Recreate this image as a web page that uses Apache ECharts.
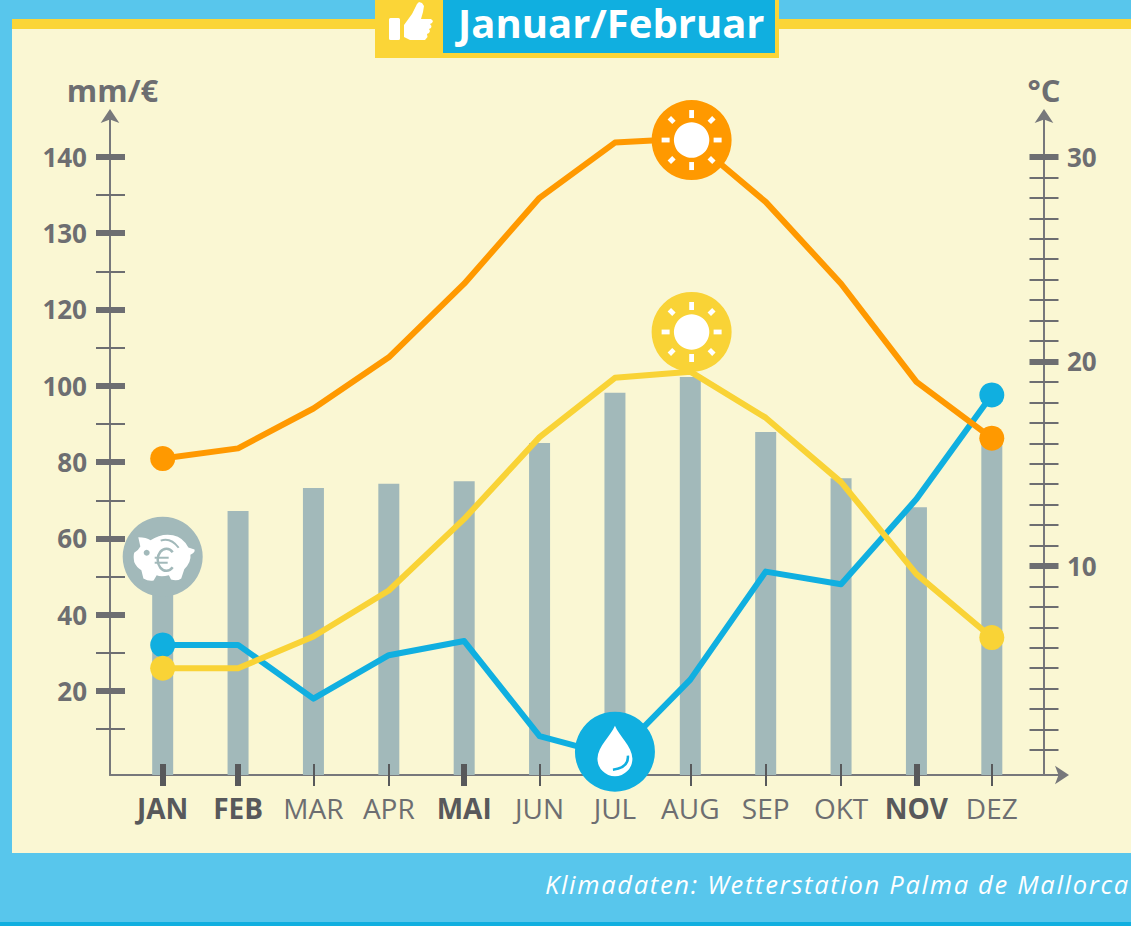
<!DOCTYPE html>
<html>
<head>
<meta charset="utf-8">
<style>
html,body{margin:0;padding:0;background:#faf7d3;overflow:hidden}
#c{width:1131px;height:926px}
svg text[style*="italic"]{letter-spacing:1.7px}
</style>
<script src="https://cdn.jsdelivr.net/npm/echarts@6/dist/echarts.min.js"></script>
</head>
<body>
<div id="c"></div>
<script>
const months = ['JAN','FEB','MAR','APR','MAI','JUN','JUL','AUG','SEP','OKT','NOV','DEZ'];
const boldMonths = ['JAN','FEB','MAI','NOV'];
const priceBars = [57.1,69.2,75.2,76.3,77,87,100.2,104.3,89.9,77.8,70.2,87.8];
const precipMm = [32.1,32.1,18.0,29.4,33.1,8.2,2.9,23.0,51.3,48.0,70.3,97.6];
const tempMax = [15.25,15.75,17.7,20.2,23.8,28.0,30.7,30.9,27.8,23.8,19.0,16.25];
const tempMin = [5.0,5.0,6.55,8.8,12.3,16.3,19.2,19.5,17.25,14.1,9.6,6.5];
const leftTickValues = [20,40,60,80,100,120,140,160];
const leftTickLabels = ['20','40','60','80','100','120','130','140'];
const leftMinorValues = [10,30,50,70,90,110,130,150];
const rightTickValues = [10,20,30];
const rightMinorValues = [1,2,3,4,5,6,7,8,9,11,12,13,14,15,16,17,18,19,21,22,23,24,25,26,27,28,29];
const iconKinds = ['piggy','drop','sunOrange','sunYellow'];
const iconMonths = ['JAN','JUL','AUG','AUG'];
const iconValues = [55.2,4.1,164.4,114.1];

const GRAY='#6d6e71', DARK='#58595b', LINE='#77787b', CREAM='#faf7d3', SKY='#58c6ec',
      BLUE='#10afe0', YEL='#f9d336', ORA='#ff9900', BAR='#a2b9ba';
const FONT='"Open Sans"';

function pathEl(d,x,y,w,h,style){return {type:'path',shape:{pathData:d,layout:'cover',x:x,y:y,width:w,height:h},style:style};}
function sun(col,p){
  const kids=[{type:'circle',shape:{cx:0,cy:0,r:40},style:{fill:col}},{type:'circle',shape:{cx:0,cy:0,r:17.7},style:{fill:'#fff'}}];
  for(let i=0;i<8;i++){
    const diag=i%2===1;
    kids.push({type:'rect',rotation:i*Math.PI/4,shape:{x:-2.4,y:diag?-31.5:-30,width:4.8,height:diag?6.5:8},style:{fill:'#fff'}});
  }
  return {type:'group',x:p[0]+1.3,y:p[1],children:kids};
}
function piggy(p){
  const body='M-24,-18 Q-16,-18 -12,-15 Q-2,-22 10,-20 Q20,-18 25,-8 L31,-6 Q32,-3 27,-1 Q28,6 21,13 L18,22 Q14,25 8,23 L6,19 Q-2,21 -6,19 L-9,24 Q-14,25 -19,22 L-21,14 Q-26,11 -28,6 Q-29,0 -28,-3 Q-24,-5 -22,-9 Z';
  return {type:'group',x:p[0],y:p[1],children:[
    {type:'circle',shape:{cx:0,cy:0,r:40},style:{fill:BAR}},
    pathEl(body,-29,-22,61,46,{fill:'#fff'}),
    {type:'circle',shape:{cx:-16,cy:-4,r:3},style:{fill:BAR}},
    pathEl('M-2,-15 Q8,-18 16,-9',-2,-17,18,8,{fill:'none',stroke:BAR,lineWidth:2}),
    pathEl('M10,-4 A9,9.5 0 1 0 10,9',-5,-8,15,22,{fill:'none',stroke:BAR,lineWidth:2.5}),
    {type:'rect',shape:{x:-8,y:0,width:14,height:2},style:{fill:BAR}},
    {type:'rect',shape:{x:-8,y:5,width:13,height:2},style:{fill:BAR}}
  ]};
}
function drop(p){
  return {type:'group',x:p[0],y:p[1],children:[
    {type:'circle',shape:{cx:0,cy:0,r:40},style:{fill:BLUE}},
    pathEl('M0,-26 C4,-16 17,-6 17.5,7 A17.5,17.5 0 0 1 -17.5,7 C-17,-6 -4,-16 0,-26 Z',-17.5,-26,35,50.5,{fill:'#fff'}),
    pathEl('M12,4 Q13,16 -2,18',-2,4,15,14,{fill:'none',stroke:BLUE,lineWidth:2.5})
  ]};
}
function renderIcon(params,api){
  const p=api.coord([api.value(0),api.value(1)]);
  const k=iconKinds[params.dataIndex];
  if(k==='piggy') return piggy(p);
  if(k==='drop') return drop(p);
  return sun(k==='sunOrange'?ORA:YEL,p);
}
const endDots=(v,params)=>(params.dataIndex===0||params.dataIndex===months.length-1)?25:0;
function lineSeries(name,data,color,axis,z){
  return {name:name,type:'line',data:data,yAxisIndex:axis,xAxisIndex:0,z:z,symbol:'circle',symbolSize:endDots,
    showSymbol:true,showAllSymbol:true,smooth:false,lineStyle:{color:color,width:6,join:'round'},itemStyle:{color:color,borderWidth:0},clip:false};
}
function tickY(pos,min,max,values,width){
  return {type:'value',position:pos,min:min,max:max,gridIndex:0,offset:0,z:1,
    axisLine:{show:false,onZero:false},splitLine:{show:false},axisLabel:{show:false},
    axisTick:{show:true,length:29,customValues:values,lineStyle:{color:GRAY,width:width}}};
}
function tickX(values,width){
  return {type:'category',data:months,position:'bottom',gridIndex:0,offset:-11,z:3,
    axisLine:{show:false,onZero:false},splitLine:{show:false},axisLabel:{show:false},
    axisTick:{show:true,length:22,alignWithLabel:true,customValues:values,lineStyle:{color:DARK,width:width}}};
}
const ARROW={show:true,onZero:false,symbol:['none','arrow'],symbolSize:[14,14],symbolOffset:[0,7],lineStyle:{color:LINE,width:2}};
const LMIN=-2,LMAX=170.7,RMIN=-0.22,RMAX=32;
const boldIdx=months.map((m,i)=>boldMonths.includes(m)?i:-1).filter(i=>i>=0);
const thinIdx=months.map((m,i)=>boldMonths.includes(m)?-1:i).filter(i=>i>=0);

const option={
  animation:false,
  backgroundColor:CREAM,
  textStyle:{fontFamily:FONT},
  grid:[{left:125,right:101.5,top:116,bottom:151},{left:110,right:69,top:116,bottom:151}],
  xAxis:[
    {type:'category',data:months,position:'bottom',gridIndex:0,
      axisLine:{show:false,onZero:false},axisTick:{show:false},splitLine:{show:false},
      axisLabel:{show:true,interval:0,margin:19,
        formatter:v=>(boldMonths.includes(v)?'{b|':'{n|')+v+'}',
        rich:{b:{fontFamily:FONT,fontWeight:'bold',fontSize:28,color:DARK},n:{fontFamily:FONT,fontSize:28,color:GRAY}}}},
    tickX(thinIdx,2),
    tickX(boldIdx,6),
    {type:'value',gridIndex:1,position:'bottom',min:0,max:1,z:1,
      axisLine:ARROW,axisTick:{show:false},axisLabel:{show:false},splitLine:{show:false}}
  ],
  yAxis:[
    {type:'value',position:'left',gridIndex:0,min:LMIN,max:LMAX,offset:15,z:1,name:'mm/€',nameLocation:'end',nameGap:11,
      nameTextStyle:{fontFamily:FONT,fontWeight:'bold',fontSize:31,color:GRAY,padding:[0,0,0,5]},
      axisLine:ARROW,axisTick:{show:false},splitLine:{show:false},
      axisLabel:{show:true,margin:23,customValues:leftTickValues,
        formatter:v=>leftTickLabels[leftTickValues.indexOf(v)],
        fontFamily:FONT,fontWeight:'bold',fontSize:26,color:GRAY}},
    {type:'value',position:'right',gridIndex:0,min:RMIN,max:RMAX,offset:14.5,z:1,name:'°C',nameLocation:'end',nameGap:11,
      nameTextStyle:{fontFamily:FONT,fontWeight:'bold',fontSize:31,color:GRAY},
      axisLine:ARROW,axisTick:{show:false},splitLine:{show:false},
      axisLabel:{show:true,margin:23,customValues:rightTickValues,
        formatter:v=>String(v),
        fontFamily:FONT,fontWeight:'bold',fontSize:26,color:GRAY}},
    tickY('left',LMIN,LMAX,leftTickValues,6),
    tickY('left',LMIN,LMAX,leftMinorValues,2),
    tickY('right',RMIN,RMAX,rightTickValues,6),
    tickY('right',RMIN,RMAX,rightMinorValues,2),
    {type:'value',gridIndex:0,position:'left',min:0,max:LMAX-LMIN,show:false},
    {type:'value',gridIndex:1,position:'left',min:0,max:1,show:false}
  ],
  series:[
    {name:'Preis',type:'bar',data:priceBars,xAxisIndex:0,yAxisIndex:6,barWidth:21,z:2,itemStyle:{color:BAR}},
    lineSeries('Niederschlag',precipMm,BLUE,0,4),
    lineSeries('Tmax',tempMax,ORA,1,5),
    lineSeries('Tmin',tempMin,YEL,1,6),
    {name:'Icons',type:'custom',xAxisIndex:0,yAxisIndex:0,z:7,clip:false,
      data:iconMonths.map((m,i)=>[months.indexOf(m),iconValues[i]]),
      encode:{x:0,y:1},renderItem:renderIcon}
  ],
  graphic:{elements:[
    {type:'rect',z:-1,silent:true,shape:{x:0,y:0,width:1131,height:19},style:{fill:SKY}},
    {type:'rect',z:-1,silent:true,shape:{x:0,y:19,width:1131,height:10},style:{fill:'#fbd537'}},
    {type:'rect',z:-1,silent:true,shape:{x:0,y:19,width:12,height:10},style:{fill:SKY}},
    {type:'rect',z:-1,silent:true,shape:{x:0,y:29,width:12,height:824},style:{fill:SKY}},
    {type:'rect',z:-1,silent:true,shape:{x:0,y:853,width:1131,height:69},style:{fill:SKY}},
    {type:'rect',z:-1,silent:true,shape:{x:0,y:922,width:1131,height:4},style:{fill:BLUE}},
    {type:'rect',z:10,silent:true,shape:{x:375,y:0,width:404,height:58},style:{fill:'#fbd537'}},
    {type:'rect',z:10,silent:true,shape:{x:443,y:0,width:332,height:53},style:{fill:BLUE}},
    {type:'rect',z:11,silent:true,shape:{x:389,y:18,width:11,height:22,r:1.5},style:{fill:'#fff'}},
    {type:'polygon',z:11,silent:true,shape:{points:[[404,25],[412,14],[417,4],[419,2],[422,3],[424,6],[423,12],[421,19],[431,19],[433,21],[432,23],[430,24],[431.5,26],[431,28],[429,29],[430,31],[429,33],[427,34],[427.5,37],[425,40],[410,40],[406,38],[404,37]]},style:{fill:'#fff'}},
    {type:'text',z:11,silent:true,x:458,y:22,style:{text:'Januar/Februar',fontFamily:FONT,fontWeight:'bold',fontSize:40,lineHeight:40,fill:'#fff',verticalAlign:'middle'}},
    {type:'text',z:11,silent:true,x:545,y:884,style:{text:'Klimadaten: Wetterstation Palma de Mallorca',fontFamily:FONT,fontStyle:'italic',fontSize:25.5,fill:'#fff',verticalAlign:'middle'}}
  ]}
};
const chart=echarts.init(document.getElementById('c'),null,{renderer:'svg',width:1131,height:926});
chart.setOption(option);
</script>
</body>
</html>
